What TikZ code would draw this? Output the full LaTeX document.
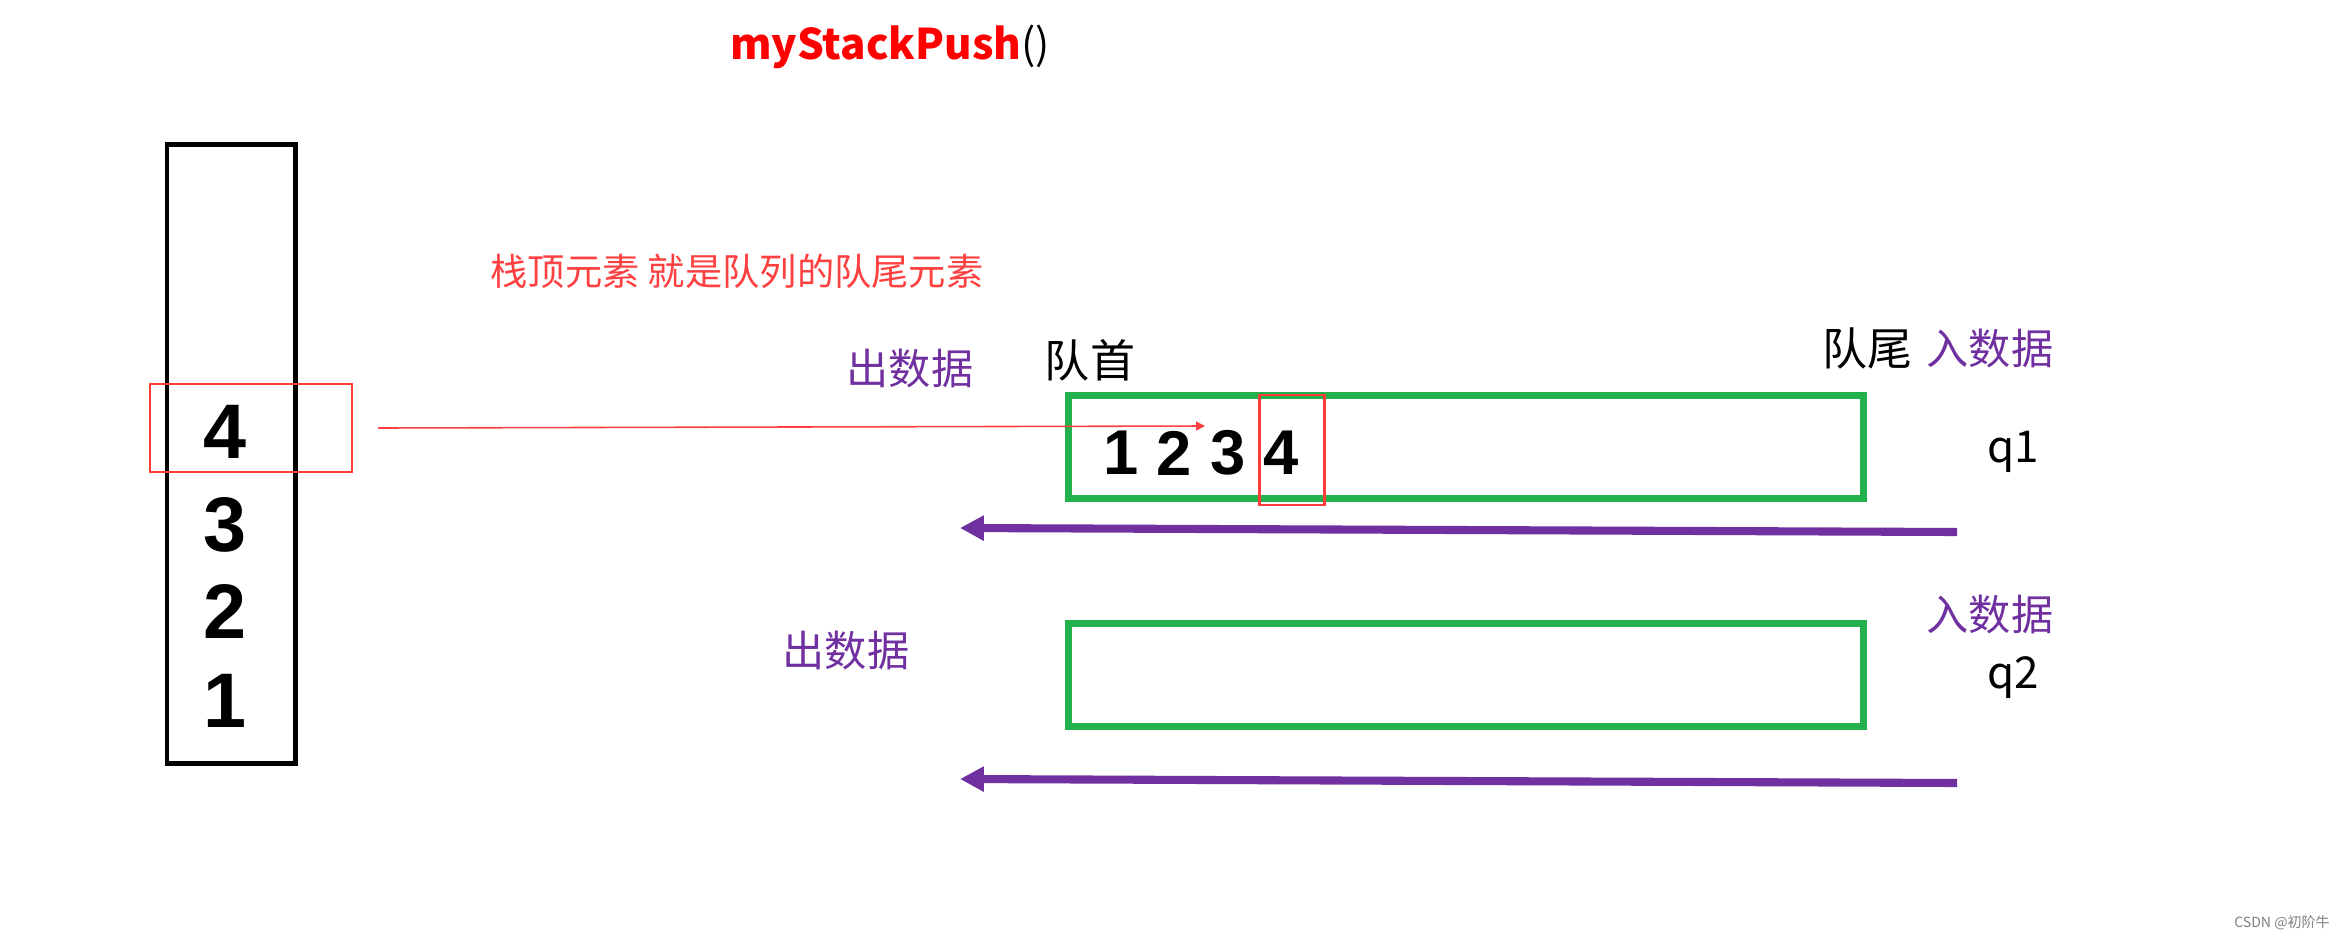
\documentclass[tikz,border=0pt]{standalone}
\usepackage{fontspec}
\setmainfont{Liberation Sans}
\newfontfamily\cjk{Noto Sans CJK SC}
\usetikzlibrary{arrows.meta}
\definecolor{qgreen}{RGB}{34,177,76}
\definecolor{qpurple}{RGB}{112,48,160}
\definecolor{boxred}{RGB}{255,60,60}
\definecolor{capred}{RGB}{255,64,64}

\begin{document}
\begin{tikzpicture}[x=0.01cm,y=-0.01cm,
    stackbox/.style={draw,line width=1.4pt,minimum width=12.8mm,minimum height=61.9mm,inner sep=0pt},
    queuebox/.style={draw=qgreen,line width=2pt,minimum width=79.4mm,minimum height=10.2mm,inner sep=0pt},
    markbox/.style={draw=boxred,line width=0.7pt,inner sep=0pt},
    digit/.style={font=\fontsize{18}{20}\selectfont\bfseries,inner sep=0pt},
    bigdigit/.style={font=\fontsize{22}{24}\selectfont\bfseries,inner sep=0pt},
    cjklabel/.style={font=\cjk\fontsize{12}{14}\selectfont,inner sep=0pt},
    qlabel/.style={font=\cjk\fontsize{12.5}{14}\selectfont,inner sep=0pt},
    outarrow/.style={-{Triangle[length=6.8pt,width=6.8pt]},qpurple,line width=2.3pt}]
    \useasboundingbox (0,0) rectangle (2348,939);

    \node[font=\cjk\fontsize{12}{14}\selectfont,inner sep=0pt] (title) at (890,47) {\textcolor{red}{\bfseries myStackPush}()};

    % the stack
    \node[stackbox] (stack) at (231,454) {};
    \foreach \v/\y in {4/432,3/525,2/611,1/701}
        \node[bigdigit] (s\v) at (225,\y) {\v};
    \node[markbox,minimum width=20.2mm,minimum height=8.8mm] (topmark) at (251,428) {};

    \node[cjklabel,text=capred,font=\cjk\fontsize{10.6}{12}\selectfont] (note) at (737,271) {栈顶元素 就是队列的队尾元素};

    % queue q1
    \node[queuebox] (q1box) at (1466,447) {};
    \foreach \v/\x in {1/1121,2/1174,3/1228,4/1281}
        \node[digit] (d\v) at (\x,453) {\v};
    \node[markbox,minimum width=6.5mm,minimum height=11mm] (tailmark) at (1292,450) {};
    \node[cjklabel,text=qpurple] (out1) at (910,368) {出数据};
    \node[cjklabel,font=\cjk\fontsize{12.8}{14}\selectfont] (head) at (1090,360) {队首};
    \node[cjklabel,font=\cjk\fontsize{12.8}{14}\selectfont] (tail) at (1867,348) {队尾};
    \node[cjklabel,text=qpurple] (in1) at (1990,348) {入数据};
    \node[qlabel] (q1) at (2013,452) {q1};

    % queue q2
    \node[queuebox] (q2box) at (1466,675) {};
    \node[cjklabel,text=qpurple] (out2) at (846,650) {出数据};
    \node[cjklabel,text=qpurple] (in2) at (1990,614) {入数据};
    \node[qlabel] (q2) at (2013,678) {q2};

    \node[font=\fontsize{4}{5}\selectfont\cjk,text=gray,inner sep=0pt] (mark) at (2282,923) {CSDN @初阶牛};

    \coordinate (pushfrom) at (378,428);
    \coordinate (pushto) at (1205,426);
    \coordinate (tail1) at (1957,532);
    \coordinate (tip1) at (960,528);
    \coordinate (tail2) at (1957,783);
    \coordinate (tip2) at (960,779);

    \draw [-{Triangle[length=2.5pt,width=2.5pt]},capred,line width=0.45pt] (pushfrom)--(pushto);
    \draw [outarrow] (tail1)--(tip1);
    \draw [outarrow] (tail2)--(tip2);
\end{tikzpicture}
\end{document}
